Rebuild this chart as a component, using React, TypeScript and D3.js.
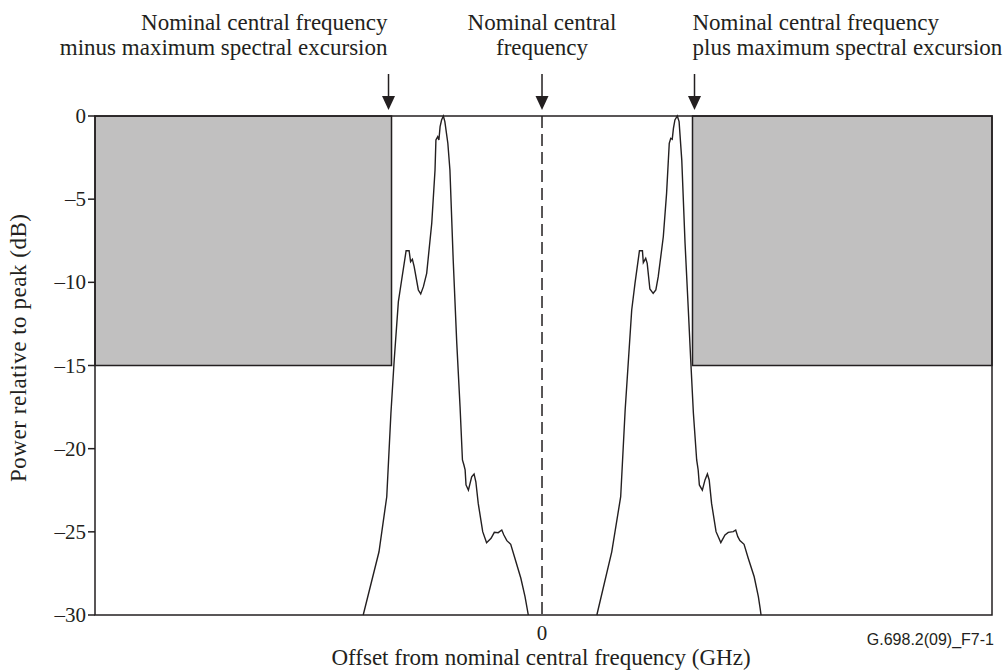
import React from "react";
import * as d3 from "d3";

const W = 1007;
const H = 670;

const yTicks = [0, -5, -10, -15, -20, -25, -30];
const xTicks = [0];
const excursion = 5.05;
const maskLevel = -15;

// Left spectrum (offset, dB)
const leftFreq = [-6.0, -5.47, -5.21, -5.07, -4.96, -4.82, -4.71, -4.56, -4.46, -4.41, -4.35, -4.29, -4.15, -4.07, -3.98, -3.87, -3.7, -3.59, -3.56, -3.5, -3.46, -3.42, -3.37, -3.31, -3.26, -3.16, -3.09, -2.98, -2.86, -2.75, -2.67, -2.62, -2.58, -2.55, -2.47, -2.36, -2.28, -2.22, -2.14, -1.99, -1.86, -1.71, -1.6, -1.47, -1.35, -1.28, -1.18, -1.05, -0.91, -0.71, -0.57, -0.46];
const leftPower = [-30.0, -26.2, -22.89, -17.87, -14.67, -11.16, -9.86, -8.1, -8.1, -8.76, -8.62, -9.06, -10.46, -10.7, -10.26, -9.46, -6.45, -3.25, -1.44, -1.24, -1.44, -0.64, -0.24, 0, -0.34, -1.64, -3.25, -8.66, -13.67, -17.48, -20.68, -20.98, -21.28, -22.18, -22.49, -21.69, -21.52, -21.99, -23.29, -24.99, -25.65, -25.39, -25.03, -25.05, -24.89, -25.19, -25.53, -25.75, -26.59, -27.79, -28.9, -30.0];

// Right spectrum (offset, dB)
const rightFreq = [1.84, 2.34, 2.64, 2.79, 2.9, 3.01, 3.12, 3.27, 3.37, 3.4, 3.48, 3.53, 3.62, 3.73, 3.82, 3.9, 4.07, 4.18, 4.27, 4.32, 4.37, 4.41, 4.46, 4.54, 4.6, 4.69, 4.8, 4.91, 4.99, 5.08, 5.19, 5.22, 5.24, 5.28, 5.38, 5.47, 5.55, 5.61, 5.69, 5.84, 6.0, 6.14, 6.25, 6.42, 6.5, 6.57, 6.64, 6.78, 6.92, 7.12, 7.26, 7.32, 7.35];
const rightPower = [-30, -26.2, -22.89, -17.68, -14.67, -11.66, -10.06, -8.1, -8.1, -8.82, -8.56, -8.86, -10.4, -10.66, -10.46, -9.66, -7.26, -4.65, -1.64, -1.34, -1.4, -0.74, -0.24, 0, -0.34, -2.65, -7.65, -11.66, -14.67, -17.87, -20.68, -21.04, -21.28, -22.18, -22.49, -21.88, -21.52, -21.88, -23.29, -24.99, -25.65, -25.19, -25.03, -24.99, -24.89, -25.29, -25.53, -25.75, -26.59, -27.7, -28.9, -29.6, -30];

const topLabels = [
  { lines: ["Nominal central frequency", "minus maximum spectral excursion"], at: -excursion, anchor: "end" },
  { lines: ["Nominal central", "frequency"], at: 0, anchor: "middle" },
  { lines: ["Nominal central frequency", "plus maximum spectral excursion"], at: excursion, anchor: "start" },
];

const ink = "#231f20";
const serif = "'Liberation Serif', 'Times New Roman', serif";

export default function App() {
  const left = 95, right = 992, top = 116, bottom = 615;
  const x = d3.scaleLinear().domain([-15, 15.1]).range([left, right]);
  const y = d3.scaleLinear().domain([-30, 0]).range([bottom, top]);
  const line = d3.line<[number, number]>().x((d) => x(d[0])).y((d) => y(d[1]));
  const leftPts = leftFreq.map((f, i) => [f, leftPower[i]] as [number, number]);
  const rightPts = rightFreq.map((f, i) => [f, rightPower[i]] as [number, number]);
  const arrowShift = [-3, 0, 2];
  const textShift = [-1, 0, -2];

  return (
    <svg width={W} height={H} style={{ position: "absolute", left: 0, top: 0, background: "#fff" }} fontFamily={serif}>
      {/* mask boxes */}
      <rect x={x(-15)} y={y(0)} width={x(-excursion) - x(-15)} height={y(maskLevel) - y(0)} fill="#c1c0c0" stroke={ink} strokeWidth={1.5} />
      <rect x={x(excursion)} y={y(0)} width={x(15.1) - x(excursion)} height={y(maskLevel) - y(0)} fill="#c1c0c0" stroke={ink} strokeWidth={1.5} />
      {/* centre dashed */}
      <line x1={x(0)} x2={x(0)} y1={y(0)} y2={y(-30)} stroke={ink} strokeWidth={1.5} strokeDasharray="12,6" />
      {/* spectra */}
      <path d={line(leftPts) || ""} fill="none" stroke={ink} strokeWidth={1.4} />
      <path d={line(rightPts) || ""} fill="none" stroke={ink} strokeWidth={1.4} />
      {/* frame */}
      <rect x={left} y={top} width={right - left} height={bottom - top} fill="none" stroke={ink} strokeWidth={1.5} />
      {/* y ticks */}
      {yTicks.map((t) => (
        <g key={t}>
          <line x1={left - 7} x2={left} y1={y(t)} y2={y(t)} stroke={ink} strokeWidth={1.5} />
          <text x={left - 9} y={y(t) + 7} textAnchor="end" fontSize={21} fill={ink}>
            {t === 0 ? "0" : "\u2013" + Math.abs(t)}
          </text>
        </g>
      ))}
      {xTicks.map((t) => (
        <text key={t} x={x(t)} y={640} textAnchor="middle" fontSize={21} fill={ink}>{t}</text>
      ))}
      <text x={541} y={665} textAnchor="middle" fontSize={23} fill={ink}>
        Offset from nominal central frequency (GHz)
      </text>
      <text transform={`translate(26,${348}) rotate(-90)`} textAnchor="middle" fontSize={23} textLength={268} lengthAdjust="spacing" fill={ink}>
        Power relative to peak (dB)
      </text>
      {/* top labels and arrows */}
      {topLabels.map((l, i) => {
        const ax = x(l.at) + arrowShift[i];
        const tx = ax + textShift[i];
        return (
          <g key={i}>
            {l.lines.map((s, j) => (
              <text key={j} x={tx} y={29.5 + j * 25} textAnchor={l.anchor as any} fontSize={23} fill={ink}>{s}</text>
            ))}
            <line x1={ax} x2={ax} y1={74} y2={100} stroke={ink} strokeWidth={1.5} />
            <path d={`M${ax - 6.5},${96} L${ax + 6.5},${96} L${ax},${110} Z`} fill={ink} />
          </g>
        );
      })}
      <text x={994} y={645} textAnchor="end" fontSize={16} fontFamily="'Liberation Sans', Arial, sans-serif" fill={ink}>
        G.698.2(09)_F7-1
      </text>
    </svg>
  );
}
